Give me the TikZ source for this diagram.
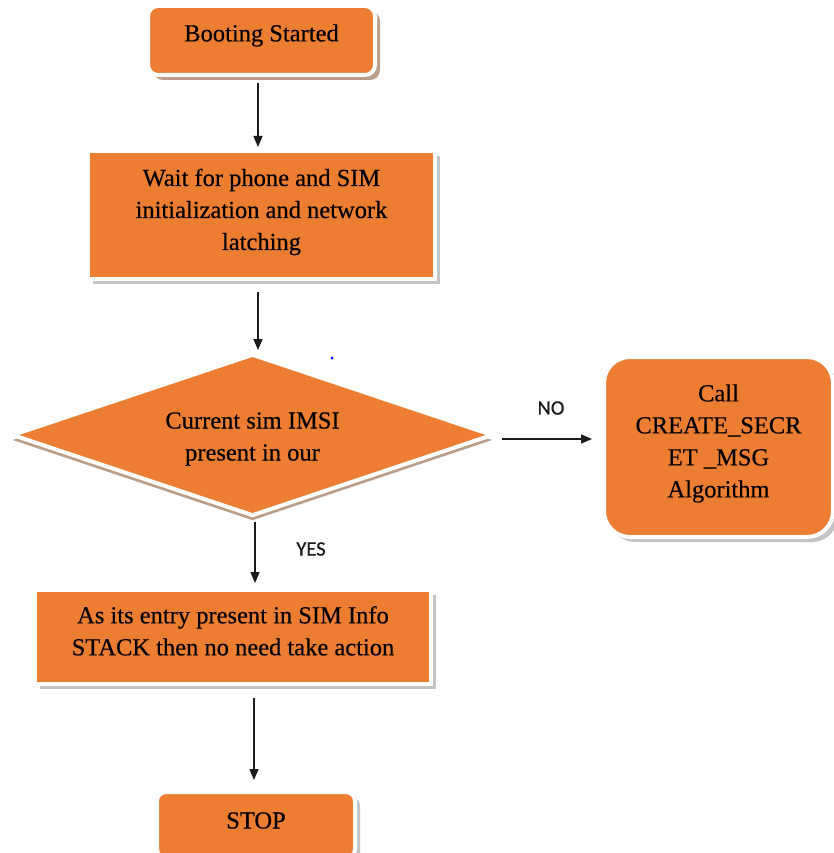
\documentclass[tikz,border=0pt]{standalone}
\usepackage{fontspec}
\setmainfont{Liberation Serif}[FakeBold=0.4]
\newfontfamily\tagfont{Carlito}[FakeBold=0.5]
\usetikzlibrary{shapes.geometric,shadows,arrows.meta}
\definecolor{boxorange}{HTML}{ED7D31}
\definecolor{shadowbrown}{HTML}{BA9E88}
\definecolor{shadowgray}{HTML}{C4C4C4}
\definecolor{arrowink}{HTML}{1A1A1A}
\begin{document}
\begin{tikzpicture}[x=1pt,y=-1pt,
  flowshape/.style={fill=boxorange, draw=white, line width=4pt, inner sep=0pt},
  brownshadow/.style={drop shadow={shadow xshift=5pt, shadow yshift=-5pt, fill=shadowbrown, opacity=1}},
  downshadow/.style={drop shadow={shadow xshift=0pt, shadow yshift=-5pt, fill=shadowbrown, opacity=1}},
  grayshadow/.style={drop shadow={shadow xshift=5pt, shadow yshift=-5pt, fill=shadowgray, opacity=1}},
  txt/.style={font=\fontsize{24.5}{32}\selectfont, align=center, inner sep=0pt, text=black},
  tag/.style={font=\tagfont\fontsize{20.5}{24}\selectfont, inner sep=0pt, text=black!90},
  flow/.style={draw=arrowink, line width=1.3pt, -{Triangle[length=11pt,width=9pt]}},
]
\fill[white] (0,0) rectangle (833,853);
\useasboundingbox (0,0) rectangle (833,853);

% process steps
\node[flowshape, brownshadow, rounded corners=10pt, minimum width=227pt, minimum height=69pt,
      label={[txt, name=boot-text, yshift=5pt]center:Booting Started}] (boot) at (261.5,40.5) {};
\node[flowshape, grayshadow, minimum width=347pt, minimum height=128pt,
      label={[txt, name=wait-text, yshift=3pt]center:{Wait for phone and SIM\\initialization and network\\latching}}] (wait) at (261.5,215) {};
\node[flowshape, downshadow, diamond, minimum width=481pt, minimum height=162pt,
      label={[txt, name=dec-text, yshift=-4pt]center:{Current sim IMSI\\present in our}}] (dec) at (252.5,435) {};
\node[flowshape, grayshadow, rounded corners=26pt, minimum width=229pt, minimum height=180pt,
      label={[txt, name=call-text, yshift=3.5pt]center:{Call\\CREATE\_SECR\\ET \_MSG\\Algorithm}}] (call) at (718.5,447) {};
\node[flowshape, grayshadow, minimum width=396pt, minimum height=94pt,
      label={[txt, name=as-text, yshift=6.2pt]center:{As its entry present in SIM Info\\STACK then no need take action}}] (as) at (233,637) {};
\node[flowshape, grayshadow, rounded corners=9pt, minimum width=198pt, minimum height=66pt,
      label={[txt, name=stop-text, yshift=4.5pt]center:STOP}] (stop) at (256,825) {};

% small blue mark
\node[circle, fill=blue, inner sep=0pt, minimum size=3pt] (mark) at (332,358) {};

% connectors
\draw[flow, shorten <=6pt, shorten >=2pt] ([xshift=-3.5pt]boot.south) -- ([xshift=-3.5pt]wait.north);
\draw[flow, shorten <=11pt, shorten >=2pt] ([xshift=-3.5pt]wait.south) -- ([xshift=5.5pt]dec.north);
\draw[flow, shorten <=4pt, shorten >=5pt] ([xshift=2.5pt]dec.south) -- ([xshift=22pt]as.north);
\draw[flow, shorten <=12pt, shorten >=10pt] ([xshift=21pt]as.south) -- ([xshift=-2pt]stop.north);
\draw[flow, shorten <=7pt, shorten >=10pt] ([yshift=-4pt]dec.east) -- ([yshift=8pt]call.west);

% branch labels
\node[tag] (no) at (551,408) {NO};
\node[tag] (yes) at (311,549) {YES};
\end{tikzpicture}
\end{document}
